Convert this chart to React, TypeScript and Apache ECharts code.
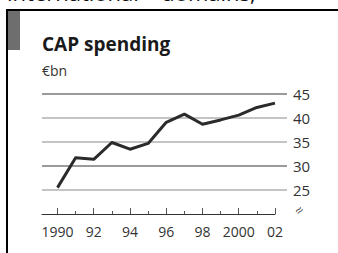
import React, { useEffect, useRef } from 'react';
import * as echarts from 'echarts';

const years = [1990, 1991, 1992, 1993, 1994, 1995, 1996, 1997, 1998, 1999, 2000, 2001, 2002];
const spending = [25.5, 31.7, 31.4, 34.9, 33.5, 34.7, 39.1, 40.8, 38.7, 39.6, 40.6, 42.2, 43.1];
const majorYears = [1990, 1992, 1994, 1996, 1998, 2000, 2002];
const minorYears = [1991, 1993, 1995, 1997, 1999, 2001];
const yMin = 25;
const yMax = 45;
const yStep = 5;
const title = 'CAP spending';
const unit = '€bn';
const topText = 'international – domains,';

const PX_PER_YEAR = 18.125;
const xMin = 1990 - 15.5 / PX_PER_YEAR;
const xMaxGrid = 2002 + 12 / PX_PER_YEAR;

const fmtYear = (v: number) => (v === 1990 || v === 2000 ? String(v) : String(v).slice(2));

export default function App() {
  const ref = useRef<HTMLDivElement>(null);
  useEffect(() => {
    if (!ref.current) return;
    const chart = echarts.init(ref.current, undefined, { renderer: 'svg' });
    const font = 'Open Sans';
    chart.setOption({
      animation: false,
      backgroundColor: '#ffffff',
      grid: [
        { left: 42, top: 94, width: 245, height: 96 },
        { left: 42, top: 94, width: 233, height: 96 },
      ],
      xAxis: [
        { gridIndex: 0, type: 'value', min: xMin, max: xMaxGrid, show: false },
        {
          gridIndex: 1, type: 'value', min: xMin, max: 2002, position: 'bottom', offset: 24,
          axisLine: { show: true, lineStyle: { color: '#333', width: 1 } },
          axisTick: { show: true, inside: true, length: 6, customValues: majorYears, lineStyle: { color: '#555', width: 1 } },
          axisLabel: { customValues: majorYears, formatter: (v: number) => fmtYear(v), margin: 10, fontSize: 14, color: '#333', fontFamily: font },
          splitLine: { show: false },
        },
        {
          gridIndex: 1, type: 'value', min: xMin, max: 2002, position: 'bottom', offset: 24,
          axisLine: { show: false },
          axisTick: { show: true, inside: true, length: 3, customValues: minorYears, lineStyle: { color: '#555', width: 1 } },
          axisLabel: { show: false },
          splitLine: { show: false },
        },
      ],
      yAxis: [
        {
          gridIndex: 0, type: 'value', min: yMin, max: yMax, interval: yStep, position: 'right',
          axisLine: { show: false }, axisTick: { show: false },
          axisLabel: { margin: 6, fontSize: 15, color: '#333', fontFamily: font },
          splitLine: { show: true, lineStyle: { color: ['#b0b0b0', '#7a7a7a', '#b0b0b0', '#b0b0b0', '#7a7a7a'], width: 1.5 } },
        },
        { gridIndex: 1, type: 'value', min: yMin, max: yMax, show: false },
      ],
      series: [
        {
          type: 'line', xAxisIndex: 0, yAxisIndex: 0,
          data: years.map((y, i) => [y, spending[i]]),
          symbol: 'none', lineStyle: { color: '#2b2b2b', width: 3, join: 'round' },
        },
      ],
      graphic: [
        { type: 'rect', shape: { x: 6, y: 9, width: 332, height: 2 }, style: { fill: '#000' } },
        { type: 'rect', shape: { x: 6, y: 9, width: 2, height: 244 }, style: { fill: '#000' } },
        { type: 'rect', shape: { x: 8, y: 11, width: 12, height: 39 }, style: { fill: '#6e6e6e' } },
        { type: 'text', x: 7, y: -8, style: { text: topText, fontSize: 22, fontFamily: font, fill: '#111', verticalAlign: 'middle' } },
        { type: 'text', x: 42, y: 44, style: { text: title, fontSize: 19, fontWeight: 'bold', fontFamily: font, fill: '#1a1a1a', verticalAlign: 'middle' } },
        { type: 'text', x: 42, y: 70, style: { text: unit, fontSize: 14, fontFamily: font, fill: '#333', verticalAlign: 'middle' } },
        { type: 'text', x: 299, y: 210, rotation: Math.PI / 4, style: { text: '≈', fontSize: 14, fontFamily: font, fill: '#555', align: 'center', verticalAlign: 'middle' } },
      ],
    });
    return () => chart.dispose();
  }, []);
  return <div ref={ref} style={{ position: 'fixed', left: 0, top: 0, width: 338, height: 253 }} />;
}
